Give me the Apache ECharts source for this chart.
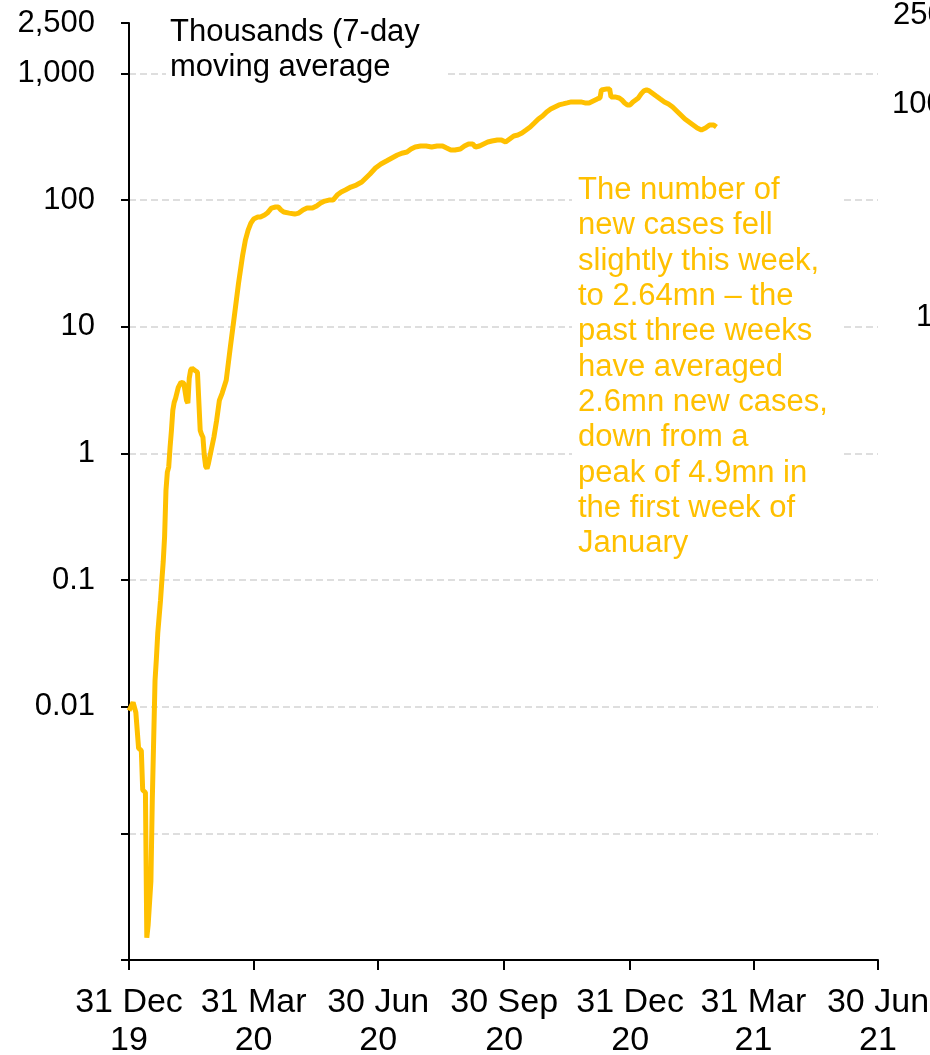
<!DOCTYPE html>
<html>
<head>
<meta charset="utf-8">
<title>New cases</title>
<script src="https://cdn.jsdelivr.net/npm/echarts@6.0.0/dist/echarts.min.js"></script>
<style>
html, body { margin: 0; padding: 0; background: #fff; }
#chartmain { width: 930px; height: 1055px; }
</style>
</head>
<body>
<div id="chartmain"></div>
<script>
// days after 31 Dec 2019
var days = [0, 3, 5, 7, 9, 10, 12, 13, 14, 16, 17, 19, 20, 21, 23, 24, 25, 26, 27, 28,
	29, 30, 31, 32, 33, 34, 36, 38, 40, 42, 43, 44, 45, 46, 48, 50, 51, 52, 53, 54,
	55, 56, 57, 58, 60, 62, 64, 66, 68, 71, 74, 77, 80, 83, 85, 87, 89, 91, 94, 96,
	99, 101, 104, 107, 109, 111, 113, 117, 121, 124, 127, 130, 134, 137, 140, 143, 146, 149, 152, 155,
	158, 162, 166, 170, 173, 176, 180, 184, 188, 192, 196, 200, 203, 206, 209, 213, 217, 221, 225, 229,
	232, 235, 238, 242, 245, 248, 251, 253, 256, 259, 262, 265, 269, 272, 275, 278, 281, 284, 287, 290,
	293, 296, 299, 302, 305, 308, 311, 314, 317, 320, 323, 327, 330, 333, 336, 339, 342, 344, 345, 346,
	349, 351, 352, 355, 358, 360, 362, 364, 366, 368, 370, 372, 374, 376, 378, 380, 382, 385, 388, 391,
	394, 397, 400, 403, 406, 409, 412, 415, 418, 421, 424, 427, 429];

// new cases, thousands, 7-day moving average
var cases = [0.0093, 0.0108, 0.009, 0.0047, 0.0045, 0.0022, 0.0021, 0.00015, 0.00019, 0.00042, 0.0018, 0.016, 0.024, 0.038, 0.069, 0.099, 0.14, 0.22, 0.51, 0.71,
	0.78, 1.12, 1.52, 2.19, 2.53, 2.72, 3.32, 3.64, 3.58, 2.62, 2.49, 3.92, 4.53, 4.70, 4.53, 4.37, 4.29, 1.52, 1.41, 1.34,
	0.96, 0.79, 0.76, 0.83, 1.06, 1.34, 1.82, 2.62, 2.98, 3.78, 6.9, 12.3, 22.1, 36.7, 48.3, 57.9, 65.8, 70.8, 73.4, 73.4,
	76.1, 78.9, 86.4, 88.1, 88.1, 83.4, 80.4, 78.9, 77.5, 78.9, 83.4, 86.4, 86.4, 89.7, 94.7, 98.2, 100, 100, 109.5, 115.7,
	120, 126.7, 131.4, 138.8, 149.3, 160.6, 179, 192.6, 203.3, 214.8, 226.9, 235.4, 239.5, 253, 262.4, 267.3, 267.3, 262.4, 267.3, 267.3,
	257.7, 248.5, 248.5, 253, 267.3, 277.3, 277.3, 262.4, 267.3, 277.3, 287.4, 292.6, 298, 298, 287.4, 303.6, 320.6, 326.4, 338.5, 357.4,
	377.6, 406, 436.7, 461.4, 496.5, 524, 543.6, 563.8, 574, 584.5, 595.2, 595.2, 595.2, 584.5, 584.5, 606.1, 628.5, 640, 740.6, 754.3,
	754.3, 754.3, 651.8, 651.8, 640, 617, 584.5, 563.8, 563.8, 595.2, 617, 640, 688.5, 727.3, 740.6, 727.3, 701.3, 663.8, 628.5, 595.2,
	574, 543.6, 505.4, 469.9, 436.7, 413.6, 391.6, 370.8, 357.4, 370.8, 391.6, 391.6, 377.6];

var tickDays = [0, 91, 182, 274, 366, 456, 547];
var tickLabels = ['31 Dec\n19', '31 Mar\n20', '30 Jun\n20', '30 Sep\n20', '31 Dec\n20', '31 Mar\n21', '30 Jun\n21'];

var unitText = 'Thousands (7-day\nmoving average';
var noteText = 'The number of\nnew cases fell\nslightly this week,\nto 2.64mn \u2013 the\npast three weeks\nhave averaged\n2.6mn new cases,\ndown from a\npeak of 4.9mn in\nthe first week of\nJanuary';
var rightLabels = ['250', '100', '10'];

var seriesData = [];
for (var i = 0; i < days.length; i++) {
	seriesData.push([days[i], cases[i]]);
}

function fmtY(v) {
	if (v < 0.005) {
		return '';
	}
	var r = Number(v.toPrecision(4));
	return String(r).replace(/\B(?=(\d{3})+(?!\d))/g, ',');
}

var font = 'Liberation Sans';
var textFont = '31px "' + font + '"';

var option = {
	animation : false,
	backgroundColor : '#fff',
	grid : {
		left : 129,
		right : 52,
		top : 23,
		bottom : 95,
		outerBoundsMode : 'none'
	},
	xAxis : {
		type : 'value',
		min : 0,
		max : 547,
		axisLine : {
			lineStyle : { color : '#000', width : 2 }
		},
		axisTick : {
			customValues : tickDays,
			length : 10,
			lineStyle : { color : '#000', width : 2 }
		},
		axisLabel : {
			customValues : tickDays,
			margin : 24,
			color : '#000',
			fontFamily : font,
			fontSize : 34,
			lineHeight : 38,
			formatter : function(v) {
				return tickLabels[tickDays.indexOf(v)];
			}
		},
		splitLine : { show : false }
	},
	yAxis : {
		type : 'log',
		logBase : 10,
		min : 0.0001,
		max : 2500,
		axisLine : {
			show : true,
			lineStyle : { color : '#000', width : 2 }
		},
		axisTick : {
			show : true,
			length : 8,
			lineStyle : { color : '#000', width : 2 }
		},
		axisLabel : {
			margin : 34,
			color : '#000',
			fontFamily : font,
			fontSize : 31,
			formatter : fmtY
		},
		splitLine : {
			show : true,
			showMinLine : false,
			showMaxLine : false,
			lineStyle : { color : '#d4d4d4', width : 1.5, type : [7, 4] }
		},
		minorTick : { show : false }
	},
	graphic : [
		{ type : 'rect', z : 100, shape : { x : 166, y : 8, width : 280, height : 84 }, style : { fill : '#fff' } },
		{ type : 'text', z : 101, x : 170, y : 15, style : { text : unitText, fill : '#000', font : textFont, lineHeight : 35 } },
		{ type : 'rect', z : 100, shape : { x : 572, y : 168, width : 268, height : 395 }, style : { fill : '#fff' } },
		{ type : 'text', z : 101, x : 578, y : 173, style : { text : noteText, fill : '#ffc000', font : textFont, lineHeight : 35.3 } },
		{ type : 'text', z : 101, x : 893, y : 0, style : { text : rightLabels[0], fill : '#000', font : textFont } },
		{ type : 'text', z : 101, x : 892, y : 89, style : { text : rightLabels[1], fill : '#000', font : textFont } },
		{ type : 'text', z : 101, x : 916, y : 302, style : { text : rightLabels[2], fill : '#000', font : textFont } }
	],
	series : [ {
		name : 'New cases',
		type : 'line',
		showSymbol : false,
		data : seriesData,
		lineStyle : { color : '#ffc000', width : 5 },
		itemStyle : { color : '#ffc000' }
	} ]
};

var myChart = echarts.init(document.getElementById('chartmain'));
myChart.setOption(option);
</script>
</body>
</html>
